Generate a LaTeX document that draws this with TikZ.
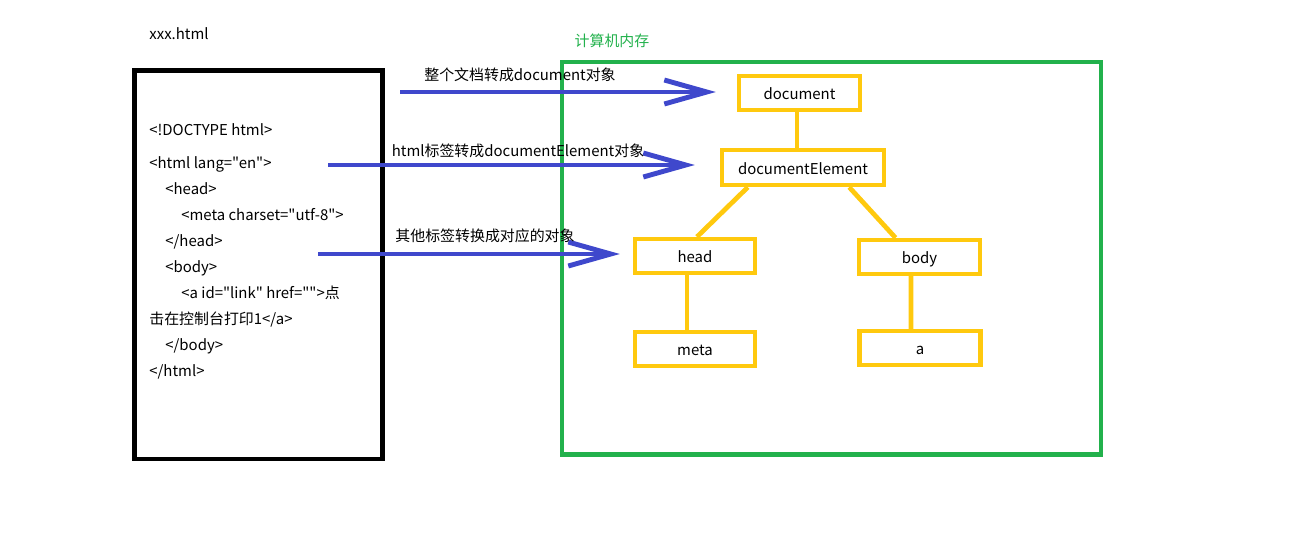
\documentclass[tikz,border=0pt]{standalone}
\usepackage{fontspec}
\setmainfont{Noto Sans CJK SC}[Ligatures=TeXOff]
\usetikzlibrary{arrows.meta}
\definecolor{paintblue}{RGB}{63,72,204}
\definecolor{paintyellow}{RGB}{255,201,14}
\definecolor{paintgreen}{RGB}{34,177,76}

\begin{document}
\begin{tikzpicture}[x=0.02cm, y=-0.02cm, font=\fontsize{8.5}{10}\selectfont,
		obj/.style={draw=paintyellow, line width=2.5pt, inner sep=0pt, minimum width=2.42cm, minimum height=0.68cm, text height=0.33cm, text depth=0.07cm},
		link/.style={paintyellow, line width=2.7pt},
		conv/.style={paintblue, line width=2.8pt, -{Straight Barb[length=0.85cm, width=0.48cm]}},
		codeline/.style={anchor=west, inner sep=0pt, text height=0.33cm, text depth=0.07cm},
		caption/.style={inner sep=0pt, text height=0.33cm, text depth=0.07cm}]
	\useasboundingbox (0,0) rectangle (1300,537);

	% Source file
	\node[caption] (file) at (179,33) {xxx.html};
	\draw[line width=2.7pt] (134.5,70.5) rectangle (382.5,459);
	\node[codeline] (l1) at (149,129) {<!DOCTYPE html>};
	\node[codeline] (l2) at (149,162) {<html lang="en">};
	\node[codeline] (l3) at (165,188) {<head>};
	\node[codeline] (l4) at (181,214) {<meta charset="utf-8">};
	\node[codeline] (l5) at (165,240) {</head>};
	\node[codeline] (l6) at (165,266) {<body>};
	\node[codeline] (l7) at (181,292) {<a id="link" href="">点};
	\node[codeline] (l8) at (149,318) {击在控制台打印1</a>};
	\node[codeline] (l9) at (165,344) {</body>};
	\node[codeline] (l10) at (149,370) {</html>};

	% Memory
	\node[caption, paintgreen] (mem) at (612,40) {计算机内存};
	\draw[paintgreen, line width=2.7pt] (562,62) rectangle (1101,454.5);

	\node[obj] (doc) at (799.5,93) {document};
	\node[obj, minimum width=3.24cm, minimum height=0.7cm] (de) at (803,167.5) {documentElement};
	\node[obj, minimum width=2.4cm] (head) at (695,256) {head};
	\node[obj] (body) at (919.5,257) {body};
	\node[obj, minimum width=2.4cm] (meta) at (695,349) {meta};
	\node[obj] (a) at (920,348) {a};

	\draw[link] ([xshift=-0.05cm]doc.south) -- ([xshift=-0.05cm]doc.south |- de.north);
	\draw[link] ([xshift=0.56cm]de.south west) -- ([xshift=0.04cm]head.north);
	\draw[link] ([xshift=-0.74cm]de.south east) -- ([xshift=-0.48cm]body.north);
	\draw[link] ([xshift=-0.16cm]head.south) -- ([xshift=-0.16cm]meta.north);
	\draw[link] ([xshift=-0.17cm]body.south) -- ([xshift=-0.18cm]a.north);

	% Conversions
	\coordinate (s1) at (400,92);
	\coordinate (s2) at (328,165);
	\coordinate (s3) at (318,254);
	\draw[conv] (s1) -- ([xshift=-0.42cm]doc.west |- s1);
	\draw[conv] (s2) -- ([xshift=-0.5cm]de.west |- s2);
	\draw[conv] (s3) -- ([xshift=-0.26cm]head.west |- s3);
	\node[caption] (t1) at (520,74) {整个文档转成document对象};
	\node[caption] (t2) at (518,150) {html标签转成documentElement对象};
	\node[caption] (t3) at (485,235) {其他标签转换成对应的对象};
\end{tikzpicture}
\end{document}
